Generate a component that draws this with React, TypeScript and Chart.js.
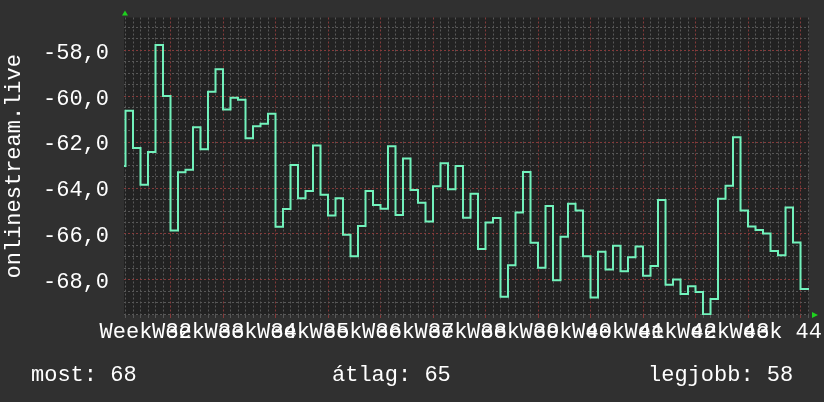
import React, { useEffect, useRef } from 'react';
import { Chart, registerables } from 'chart.js';

Chart.register(...registerables);

// ---------- data ----------
const seriesName = 'onlinestream.live';
const firstDay = -6; // day index of the first full daily step (0 = first week boundary)
const startValue = -63.04; // partial interval at the very left edge
const dailyValues = [
  -60.63, -62.26, -63.86, -62.43, -57.77, -59.99,
  -65.85, -63.31, -63.2, -61.35, -62.31, -59.8, -58.82,
  -60.58, -60.07, -60.15, -61.83, -61.31, -61.2, -60.76,
  -65.69, -64.91, -63.0, -64.44, -64.13, -62.15, -64.29,
  -65.2, -64.44, -66.03, -66.97, -65.65, -64.13, -64.74,
  -64.9, -62.18, -65.17, -62.71, -64.09, -64.64, -65.46,
  -63.92, -62.92, -64.05, -63.04, -65.29, -64.25, -66.65,
  -65.5, -65.3, -68.74, -67.36, -65.06, -63.3, -66.38,
  -67.47, -64.78, -68.02, -66.12, -64.68, -64.98, -66.97,
  -68.77, -66.77, -67.55, -66.51, -67.62, -67.01, -66.55,
  -67.82, -67.4, -64.52, -68.21, -67.98, -68.61, -68.28,
  -68.53, -69.5, -68.83, -64.47, -63.9, -61.79, -64.98,
  -65.67, -65.83, -65.98, -66.74, -66.93, -64.85, -66.37,
  -68.4,
];
const weekNumbers = [32, 33, 34, 35, 36, 37, 38, 39, 40, 41, 42, 43, 44];
const yTickValues = [-58, -60, -62, -64, -66, -68];
const yTickLabels = ['-58,0', '-60,0', '-62,0', '-64,0', '-66,0', '-68,0'];
const summaryLabels = ['most:', 'átlag:', 'legjobb:'];
const summaryValues = ['68', '65', '58'];

// ---------- axis ranges ----------
const X_MIN = -6.2;
const X_MAX = 85.13;
const Y_MIN = -69.53;
const Y_MAX = -56.57;

// ---------- styles ----------
const FONT = 'Liberation Mono';
const BG = '#303030';
const PLOT_BG = '#222222';
const MINOR = '#575757';
const MAJOR = '#843a3a';
const LINE = '#72f2bc';
const TEXT = '#ffffff';
const ARROW = '#1ed21e';

const bgPlugin = {
  id: 'bgPlugin',
  beforeDraw(chart: any) {
    const { ctx, chartArea: a, width, height } = chart;
    ctx.save();
    ctx.fillStyle = BG;
    ctx.fillRect(0, 0, width, height);
    ctx.fillStyle = PLOT_BG;
    ctx.fillRect(a.left, a.top, a.right - a.left, a.bottom - a.top);
    ctx.restore();
  },
};

const decoPlugin = {
  id: 'decoPlugin',
  afterDraw(chart: any) {
    const { ctx, chartArea: a } = chart;
    ctx.save();
    // axis arrows
    ctx.fillStyle = ARROW;
    ctx.beginPath();
    ctx.moveTo(a.left + 1, a.top - 7);
    ctx.lineTo(a.left - 2, a.top - 2);
    ctx.lineTo(a.left + 4, a.top - 2);
    ctx.closePath();
    ctx.fill();
    ctx.beginPath();
    ctx.moveTo(a.right + 9, a.bottom);
    ctx.lineTo(a.right + 3, a.bottom - 3);
    ctx.lineTo(a.right + 3, a.bottom + 3);
    ctx.closePath();
    ctx.fill();
    // summary line
    ctx.fillStyle = TEXT;
    ctx.font = `22px "${FONT}"`;
    ctx.textBaseline = 'alphabetic';
    ctx.textAlign = 'left';
    const xs = [31, 332, 648];
    summaryLabels.forEach((l, i) => {
      ctx.fillText(`${l} ${summaryValues[i]}`, xs[i], 381);
    });
    ctx.restore();
  },
};

export default function App() {
  const ref = useRef<HTMLCanvasElement>(null);

  useEffect(() => {
    document.body.style.margin = '0';
    document.body.style.background = BG;
    const canvas = ref.current!;
    const points = [
      { x: X_MIN, y: startValue },
      ...dailyValues.map((v, i) => ({ x: firstDay + i, y: v })),
      { x: X_MAX, y: dailyValues[dailyValues.length - 1] },
    ];

    const chart = new Chart(canvas, {
      type: 'line',
      data: {
        datasets: [
          {
            label: seriesName,
            data: points,
            borderColor: LINE,
            borderWidth: 2,
            pointRadius: 0,
            stepped: true,
            fill: false,
            clip: 0,
            borderJoinStyle: 'miter',
            borderCapStyle: 'butt',
          } as any,
        ],
      },
      options: {
        animation: false,
        responsive: false,
        devicePixelRatio: 1,
        layout: { padding: { top: 15, right: 15, left: 0, bottom: 0 } },
        plugins: { legend: { display: false }, tooltip: { enabled: false } },
        scales: {
          x: {
            type: 'linear',
            min: X_MIN,
            max: X_MAX,
            afterBuildTicks: (axis: any) => {
              const ticks: any[] = [];
              for (let d = Math.ceil(X_MIN); d <= Math.floor(X_MAX); d++) {
                ticks.push({ value: d, kind: 'grid' });
              }
              weekNumbers.forEach((w, k) => {
                ticks.push({ value: k * 7 - 3.3, kind: 'label', text: `Week ${w}` });
              });
              ticks.sort((p, q) => p.value - q.value);
              axis.ticks = ticks;
            },
            afterFit: (axis: any) => {
              axis.height = 87;
            },
            border: { display: false, dash: [2, 2] },
            grid: {
              drawTicks: true,
              tickLength: 3,
              color: (c: any) => (c.tick && c.tick.value % 7 === 0 ? MAJOR : MINOR),
              tickColor: (c: any) => (c.tick && c.tick.value % 7 === 0 ? MAJOR : MINOR),
              lineWidth: (c: any) => (c.tick && c.tick.kind === 'label' ? 0 : 1),
            },
            ticks: {
              autoSkip: false,
              maxRotation: 0,
              minRotation: 0,
              padding: 3,
              color: TEXT,
              font: { family: FONT, size: 22, lineHeight: 1 },
              callback: (_v: any, i: number, ticks: any[]) => (ticks[i] && ticks[i].text) || '',
            },
          },
          y: {
            type: 'linear',
            min: Y_MIN,
            max: Y_MAX,
            afterBuildTicks: (axis: any) => {
              const ticks: any[] = [];
              for (let v = Math.ceil(Y_MIN * 2) / 2; v <= Y_MAX; v += 0.5) {
                const idx = yTickValues.indexOf(v);
                ticks.push({ value: v, text: idx >= 0 ? yTickLabels[idx] : '' });
              }
              axis.ticks = ticks;
            },
            afterFit: (axis: any) => {
              axis.width = 124;
            },
            border: { display: false, dash: [2, 2] },
            grid: {
              drawTicks: false,
              color: (c: any) => (c.tick && c.tick.value % 2 === 0 ? MAJOR : MINOR),
              lineWidth: 1,
            },
            ticks: {
              autoSkip: false,
              padding: 15,
              color: TEXT,
              font: { family: FONT, size: 22, lineHeight: '5px' },
              callback: (_v: any, i: number, ticks: any[]) => {
                const t = ticks[i] && ticks[i].text;
                return t ? ['', t] : '';
              },
            },
            title: {
              display: true,
              text: seriesName,
              color: TEXT,
              font: { family: FONT, size: 22 },
              padding: { top: 1, bottom: 0 },
            },
          },
        },
      } as any,
      plugins: [bgPlugin, decoPlugin],
    });

    return () => chart.destroy();
  }, []);

  return <canvas ref={ref} width={824} height={402} style={{ display: 'block' }} />;
}
